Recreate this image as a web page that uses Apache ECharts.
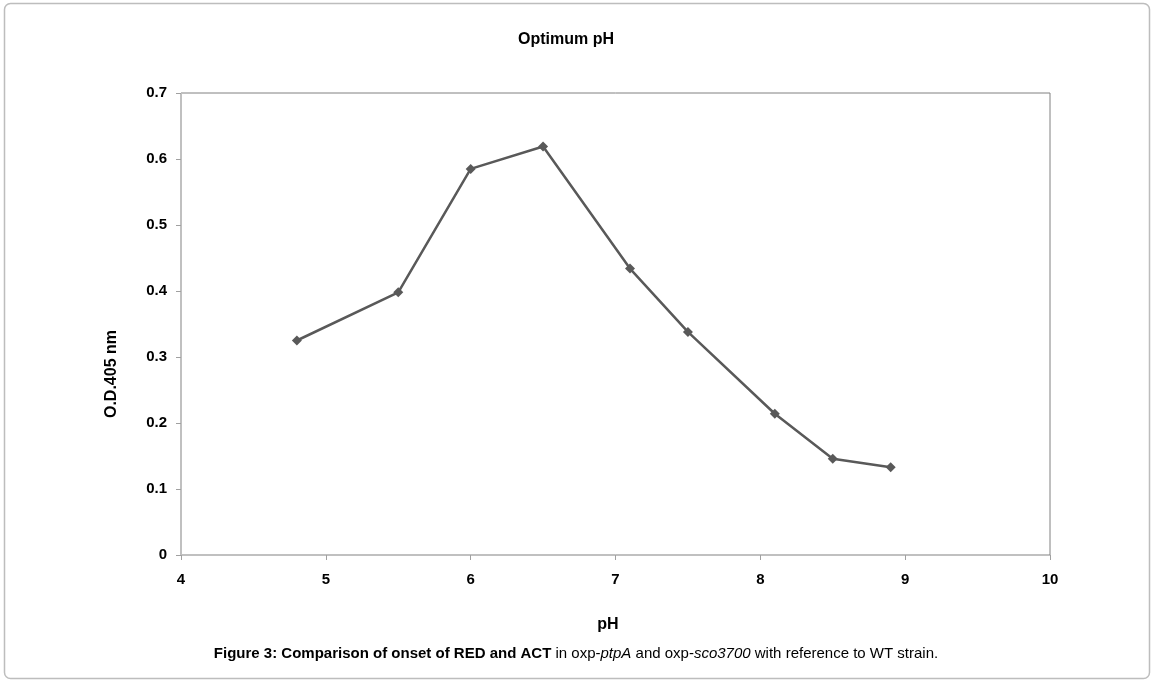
<!DOCTYPE html>
<html><head><meta charset="utf-8">
<script src="https://cdn.jsdelivr.net/npm/echarts@6/dist/echarts.min.js"></script>
<style>html,body{margin:0;padding:0;background:#fff}#c{width:1153px;height:684px}</style>
</head><body><div id="c"></div>
<script>
const phValues = [4.8, 5.5, 6.0, 6.5, 7.1, 7.5, 8.1, 8.5, 8.9];
const odValues = [0.325, 0.398, 0.585, 0.619, 0.434, 0.338, 0.214, 0.146, 0.133];
const xTicks = [4, 5, 6, 7, 8, 9, 10];
const yTicks = [0, 0.1, 0.2, 0.3, 0.4, 0.5, 0.6, 0.7];

const chart = echarts.init(document.getElementById('c'), null, {renderer: 'canvas'});
const F = 'Liberation Sans, Arial, sans-serif';
chart.setOption({
  animation: false,
  backgroundColor: '#fff',
  grid: {left: 181, right: 103, top: 93, bottom: 129, show: true, borderColor: '#808080', borderWidth: 1, backgroundColor: 'transparent'},
  xAxis: {
    type: 'value', min: xTicks[0], max: xTicks[xTicks.length - 1], interval: 1,
    axisLine: {show: true, onZero: false, lineStyle: {color: '#c0c0c0', width: 1}},
    axisTick: {show: true, length: 5, lineStyle: {color: '#a0a0a0'}},
    splitLine: {show: false},
    axisLabel: {margin: 17, fontFamily: F, fontSize: 15, fontWeight: 'bold', color: '#000'}
  },
  yAxis: {
    type: 'value', min: yTicks[0], max: yTicks[yTicks.length - 1], interval: 0.1,
    axisLine: {show: true, onZero: false, lineStyle: {color: '#c0c0c0', width: 1}},
    axisTick: {show: true, length: 5, lineStyle: {color: '#a0a0a0'}},
    splitLine: {show: false},
    axisLabel: {margin: 14, fontFamily: F, fontSize: 15, fontWeight: 'bold', color: '#000',
      formatter: v => (Math.round(v * 10) / 10).toString()}
  },
  series: [{
    type: 'line',
    data: phValues.map((x, i) => [x, odValues[i]]),
    symbol: 'diamond', symbolSize: 10,
    lineStyle: {color: '#595959', width: 2.5},
    itemStyle: {color: '#595959'}
  }],
  graphic: [
    {type: 'rect', shape: {x: 4.5, y: 3.5, width: 1145, height: 675, r: 6}, style: {fill: 'none', stroke: '#bdbdbd', lineWidth: 1.5}, silent: true},
    {type: 'text', x: 566, y: 40, style: {text: 'Optimum pH', font: 'bold 16px ' + F, fill: '#000', textAlign: 'center', textVerticalAlign: 'middle'}},
    {type: 'text', x: 608, y: 625, style: {text: 'pH', font: 'bold 16px ' + F, fill: '#000', textAlign: 'center', textVerticalAlign: 'middle'}},
    {type: 'text', x: 112, y: 374, rotation: Math.PI / 2, style: {text: 'O.D.405 nm', font: 'bold 16px ' + F, fill: '#000', textAlign: 'center', textVerticalAlign: 'middle'}},
    {type: 'text', x: 576, y: 654, style: {
      text: '{b|Figure 3: Comparison of onset of RED and ACT}{n| in oxp-}{i|ptpA}{n| and oxp-}{i|sco3700}{n| with reference to WT strain.}',
      textAlign: 'center', textVerticalAlign: 'middle',
      rich: {
        b: {fontFamily: F, fontSize: 15, fontWeight: 'bold', fill: '#000'},
        n: {fontFamily: F, fontSize: 15, fill: '#000'},
        i: {fontFamily: F, fontSize: 15, fontStyle: 'italic', fill: '#000'}
      }
    }}
  ]
});
</script></body></html>
